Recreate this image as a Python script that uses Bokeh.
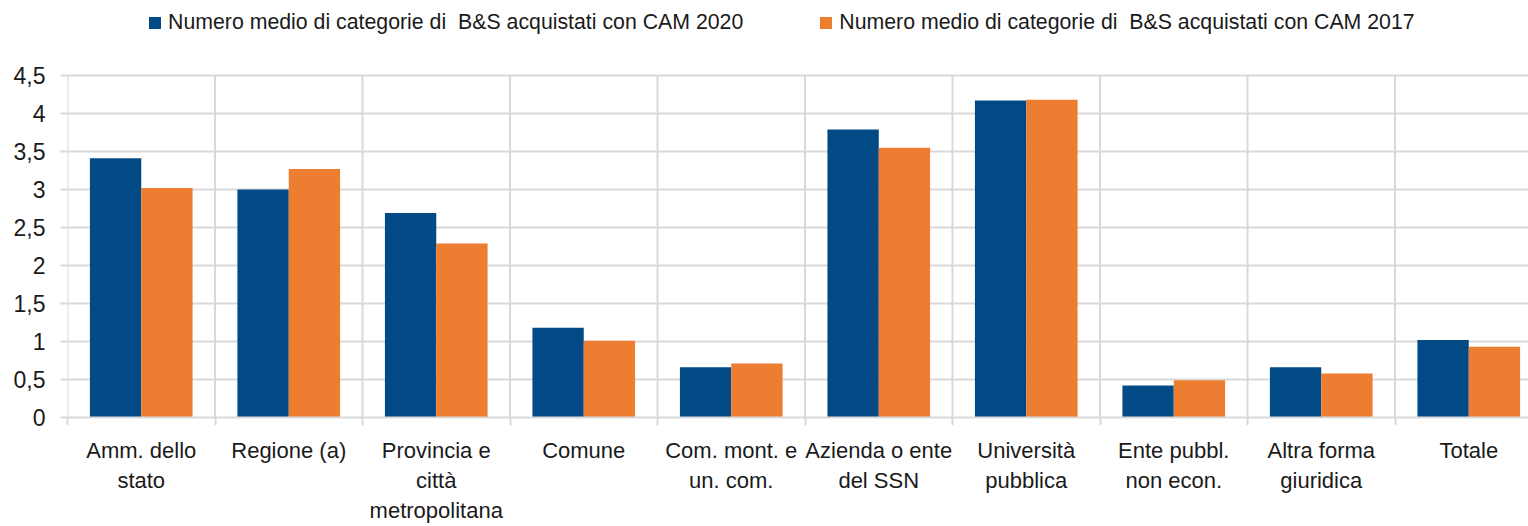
from bokeh.plotting import figure
from bokeh.models import ColumnDataSource, FixedTicker, Legend, LegendItem
from bokeh.transform import dodge
from bokeh.embed import file_html
from bokeh.resources import INLINE

categories = ["Amm. dello\nstato", "Regione (a)", "Provincia e\ncittà\nmetropolitana", "Comune",
              "Com. mont. e\nun. com.", "Azienda o ente\ndel SSN", "Università\npubblica",
              "Ente pubbl.\nnon econ.", "Altra forma\ngiuridica", "Totale"]
cam2020 = [3.41, 3.00, 2.69, 1.18, 0.66, 3.79, 4.17, 0.42, 0.66, 1.02]
cam2017 = [3.02, 3.27, 2.29, 1.01, 0.71, 3.55, 4.18, 0.49, 0.58, 0.93]
series_names = ["Numero medio di categorie di  B&S acquistati con CAM 2020",
                "Numero medio di categorie di  B&S acquistati con CAM 2017"]
y_ticks = [0, 0.5, 1, 1.5, 2, 2.5, 3, 3.5, 4, 4.5]
y_labels = ["0", "0,5", "1", "1,5", "2", "2,5", "3", "3,5", "4", "4,5"]

BLUE = "#024A86"
ORANGE = "#ED7D31"
GRID = "#D9D9D9"
TXT = "#1A1A1A"
FONT = "Liberation Sans"

idx = list(range(len(categories)))
bounds = [i - 0.5 for i in idx]
src = ColumnDataSource(dict(x=idx, a=cam2020, b=cam2017))

# frame extends to the top of the canvas so the legend can sit inside it
PX_PER_UNIT = 76.0
FRAME_H = 417
p = figure(width=1528, height=526, output_backend="svg", toolbar_location=None,
           x_range=(-0.5, 9.405), y_range=(0, FRAME_H / PX_PER_UNIT),
           min_border_left=67, min_border_right=0, min_border_top=0, min_border_bottom=109)
p.outline_line_color = None
p.background_fill_color = "white"
p.border_fill_color = "white"

# vertical category separators (only up to the top tick)
p.segment(x0=bounds, y0=[0] * len(bounds), x1=bounds, y1=[y_ticks[-1]] * len(bounds),
          line_color=GRID, line_width=2)

bw = 0.348
r1 = p.vbar(x=dodge("x", -bw / 2, range=p.x_range), top="a", width=bw, bottom=0,
            source=src, fill_color=BLUE, line_color=None)
r2 = p.vbar(x=dodge("x", bw / 2, range=p.x_range), top="b", width=bw, bottom=0,
            source=src, fill_color=ORANGE, line_color=None)

# x axis
p.xaxis.ticker = FixedTicker(ticks=idx, minor_ticks=bounds)
p.xaxis.major_label_overrides = {i: c for i, c in zip(idx, categories)}
p.xaxis.major_tick_line_color = None
p.xaxis.minor_tick_line_color = GRID
p.xaxis.minor_tick_line_width = 2
p.xaxis.minor_tick_out = 8
p.xaxis.minor_tick_in = 0
p.xaxis.axis_line_color = GRID
p.xaxis.axis_line_width = 2
p.xaxis.major_label_standoff = 12
p.xaxis.major_label_text_font = FONT
p.xaxis.major_label_text_font_size = "22px"
p.xaxis.major_label_text_color = TXT

# y axis
p.yaxis.ticker = FixedTicker(ticks=y_ticks)
p.yaxis.major_label_overrides = {t: l for t, l in zip(y_ticks, y_labels)}
p.yaxis.major_tick_line_color = GRID
p.yaxis.major_tick_line_width = 2
p.yaxis.major_tick_out = 7
p.yaxis.major_tick_in = 0
p.yaxis.minor_tick_line_color = None
p.yaxis.axis_line_color = None
p.yaxis.major_label_standoff = 15
p.yaxis.major_label_text_font = FONT
p.yaxis.major_label_text_font_size = "23px"
p.yaxis.major_label_text_color = TXT

# grids
p.xgrid.grid_line_color = None
p.ygrid.grid_line_color = GRID
p.ygrid.grid_line_width = 2

legend = Legend(items=[LegendItem(label=series_names[0], renderers=[r1]),
                       LegendItem(label=series_names[1], renderers=[r2])],
                orientation="horizontal", location=(80, 382),
                glyph_width=15, glyph_height=15, label_standoff=6, spacing=75,
                padding=0, margin=0, border_line_color=None, background_fill_alpha=0,
                label_text_font=FONT, label_text_font_size="21.3px", label_text_color=TXT)
p.add_layout(legend)

open("out.html", "w").write(file_html(p, INLINE))
